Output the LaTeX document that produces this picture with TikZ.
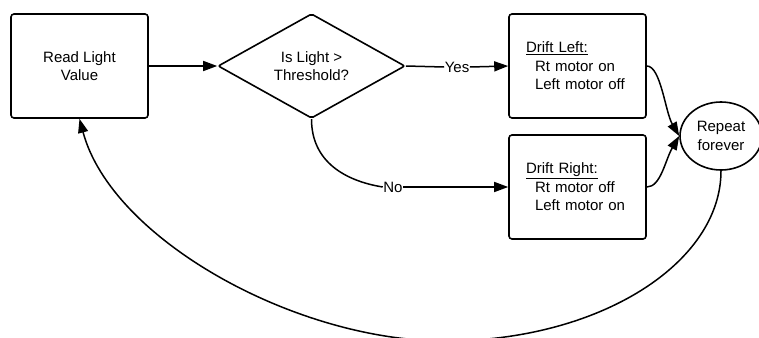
\documentclass[tikz,border=0pt]{standalone}
\usepackage{fontspec}
\setmainfont{Liberation Sans}
\usetikzlibrary{shapes.geometric,arrows.meta}
\tikzset{
  txt/.style={font=\fontsize{15}{18.5}\selectfont},
  procbox/.style={draw, line width=1.6pt, rounded corners=3pt, minimum width=137pt, minimum height=104pt, inner sep=0pt, txt},
  decbox/.style={diamond, draw, line width=1.6pt, rounded corners=2pt, minimum width=187pt, minimum height=102pt, inner sep=0pt, align=center, txt},
  ovalbox/.style={ellipse, draw, line width=1.6pt, minimum width=82pt, minimum height=68pt, inner sep=0pt, align=center, txt},
  lbl/.style={fill=white, inner sep=0.5pt, txt},
  conn/.style={line width=1.5pt},
  arr/.style={conn, -{Triangle[length=14pt,width=10pt]}}
}
\begin{document}
\begin{tikzpicture}[x=1pt,y=-1pt]
\useasboundingbox (0,0) rectangle (759,337);
\node[procbox, align=center] (b1) at (79.5,66) {Read Light\\Value};
\node[decbox] (dia) at (311.5,66) {Is Light >\\Threshold?};
\node[procbox, text width=103pt, align=left] (dl) at (577.5,66) {\underline{Drift Left:}\\\hspace*{9pt}Rt motor on\\\hspace*{9pt}Left motor off};
\node[procbox, text width=103pt, align=left] (dr) at (577.5,187) {\underline{Drift Right:}\\\hspace*{9pt}Rt motor off\\\hspace*{9pt}Left motor on};
\node[ovalbox] (rep) at (721,136) {Repeat\\forever};
\node[lbl] (yes) at (457,67) {Yes};
\node[lbl] (no) at (393,187) {No};
\coordinate (bot) at (445,341);

\draw[arr] (b1.east) -- (dia.west);
\draw[conn] (dia.east) -- (yes.west);
\draw[arr] (yes.east) -- (dl.west);
\draw[conn] (dia.south) .. controls +(0,43) and +(-37,-6) .. (no.west);
\draw[arr] (no.east) -- (dr.west);
\draw[arr] (dl.east) .. controls +(14,0) and +(-14,-24) .. (rep.west);
\draw[arr] (dr.east) .. controls +(14,0) and +(-14,24) .. (rep.west);
\draw[arr] (rep.south) .. controls +(0,92) and +(155,0) .. (bot) .. controls +(-150,0) and +(32,120) .. (b1.south);
\end{tikzpicture}
\end{document}
